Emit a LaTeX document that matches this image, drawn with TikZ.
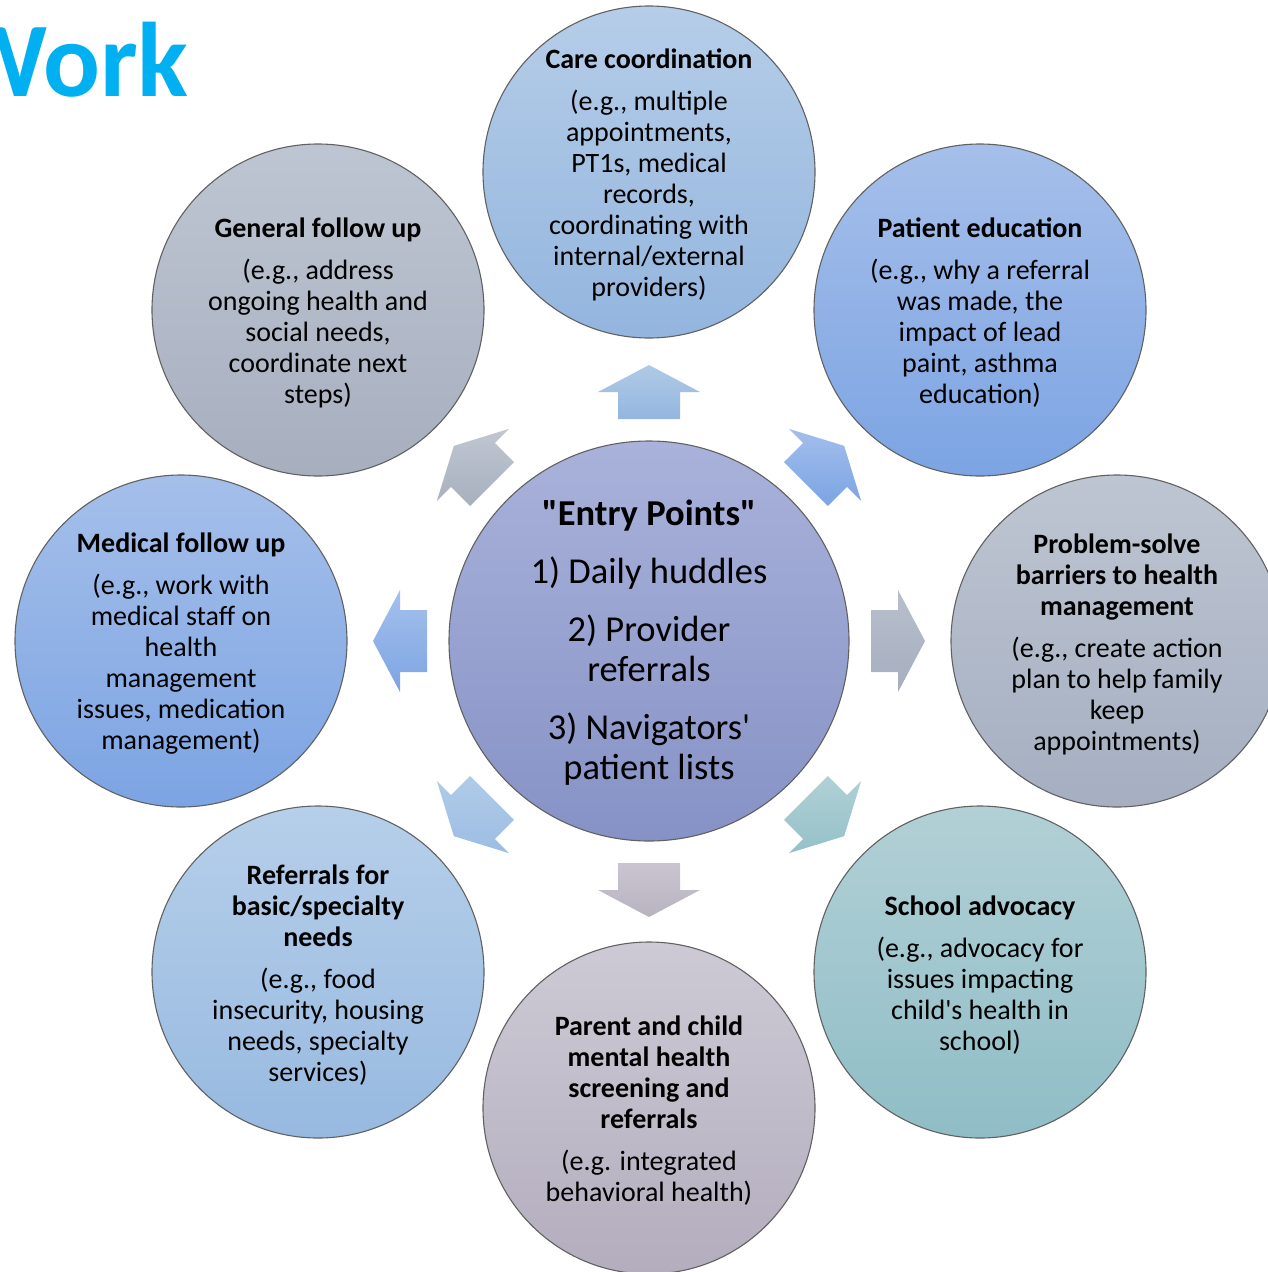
\documentclass[tikz,border=0pt]{standalone}
\usepackage{fontspec}
\setmainfont{Carlito}
\newfontfamily\calib{Carlito}
\usetikzlibrary{calc}
\definecolor{workblue}{HTML}{00B0F0}
\definecolor{careT}{HTML}{B5CDE8}\definecolor{careB}{HTML}{93B5DE}
\definecolor{eduT}{HTML}{A6BFEA}\definecolor{eduB}{HTML}{7CA4E3}
\definecolor{probT}{HTML}{BEC5D2}\definecolor{probB}{HTML}{A5AFC1}
\definecolor{schT}{HTML}{B2D0D6}\definecolor{schB}{HTML}{8FBDC6}
\definecolor{parT}{HTML}{CDCAD5}\definecolor{parB}{HTML}{B3ADBD}
\definecolor{refT}{HTML}{B6CFEA}\definecolor{refB}{HTML}{97B9E0}
\definecolor{medT}{HTML}{A5BFEA}\definecolor{medB}{HTML}{7CA4E3}
\definecolor{genT}{HTML}{BEC5D2}\definecolor{genB}{HTML}{A7AFBF}
\definecolor{hubT}{HTML}{A9B2DA}\definecolor{hubB}{HTML}{8692C6}
\definecolor{aTopT}{HTML}{B0CAE6}\definecolor{aTopB}{HTML}{93B6DF}
\definecolor{aTRT}{HTML}{A3BEEC}\definecolor{aTRB}{HTML}{7BA4E4}
\definecolor{aRT}{HTML}{B8BFCC}\definecolor{aRB}{HTML}{A5AEBF}
\definecolor{aBRT}{HTML}{B0D0D6}\definecolor{aBRB}{HTML}{95C1C8}
\definecolor{aBT}{HTML}{C9C5D0}\definecolor{aBB}{HTML}{B8B3C0}
\definecolor{aBLT}{HTML}{B0CBE8}\definecolor{aBLB}{HTML}{9CBDE3}
\definecolor{aLT}{HTML}{A5C0EC}\definecolor{aLB}{HTML}{7CA4E4}
\definecolor{aTLT}{HTML}{C0C7D2}\definecolor{aTLB}{HTML}{A7AFBD}
\tikzset{
  bubble/.style={circle, draw=black!62, line width=1.1pt, minimum size=332pt, inner sep=0pt},
  hub/.style={circle, draw=black!62, line width=1.1pt, minimum size=400pt, inner sep=0pt},
  txt/.style={align=center, inner sep=0pt, text=black, yshift=-3pt, font=\calib\fontsize{28}{31}\selectfont},
  hubtxt/.style={align=center, inner sep=0pt, text=black, yshift=-2pt, font=\calib\fontsize{36.5}{40}\selectfont},
}
\newcommand{\blockarrow}[3]{%
  \shade[top color=#2, bottom color=#3]
   ($(ctr.center)+(#1:222)+(#1+90:31)$) -- ($(ctr.center)+(#1:249)+(#1+90:31)$) --
   ($(ctr.center)+(#1:249)+(#1+90:51)$) -- ($(ctr.center)+(#1:276)$) --
   ($(ctr.center)+(#1:249)+(#1-90:51)$) -- ($(ctr.center)+(#1:249)+(#1-90:31)$) --
   ($(ctr.center)+(#1:222)+(#1-90:31)$) -- cycle;}
\begin{document}
\begin{tikzpicture}[x=1pt,y=-1pt]
\useasboundingbox (0,0) rectangle (1268,1272);
\node[anchor=base east, inner sep=0pt, text=workblue, font=\calib\bfseries\fontsize{106}{110}\selectfont] (title) at (189,96) {Work};

\node[hub, top color=hubT, bottom color=hubB] (ctr) at (649,641) {};
\node[bubble, top color=careT, bottom color=careB] (care) at (649,172) {};
\node[bubble, top color=eduT, bottom color=eduB] (edu) at (980,310) {};
\node[bubble, top color=probT, bottom color=probB] (prob) at (1117,641) {};
\node[bubble, top color=schT, bottom color=schB] (school) at (980,972) {};
\node[bubble, top color=parT, bottom color=parB] (parent) at (649,1108) {};
\node[bubble, top color=refT, bottom color=refB] (refer) at (318,972) {};
\node[bubble, top color=medT, bottom color=medB] (medical) at (181,641) {};
\node[bubble, top color=genT, bottom color=genB] (general) at (318,310) {};

\blockarrow{-90}{aTopT}{aTopB}
\blockarrow{-45}{aTRT}{aTRB}
\blockarrow{0}{aRT}{aRB}
\blockarrow{45}{aBRT}{aBRB}
\blockarrow{90}{aBT}{aBB}
\blockarrow{135}{aBLT}{aBLB}
\blockarrow{180}{aLT}{aLB}
\blockarrow{225}{aTLT}{aTLB}

\node[hubtxt] (ctr-t) at (ctr.center) {\textbf{"Entry Points"}\\[18pt]1) Daily huddles\\[18pt]2) Provider\\referrals\\[18pt]3) Navigators'\\patient lists};
\node[txt] (care-t) at (care.center) {\textbf{Care coordination}\\[11pt](e.g., multiple\\appointments,\\PT1s, medical\\records,\\coordinating with\\internal/external\\providers)};
\node[txt] (edu-t) at (edu.center) {\textbf{Patient education}\\[11pt](e.g., why a referral\\was made, the\\impact of lead\\paint, asthma\\education)};
\node[txt] (prob-t) at (prob.center) {\textbf{Problem-solve}\\\textbf{barriers to health}\\\textbf{management}\\[11pt](e.g., create action\\plan to help family\\keep\\appointments)};
\node[txt] (school-t) at (school.center) {\textbf{School advocacy}\\[11pt](e.g., advocacy for\\issues impacting\\child's health in\\school)};
\node[txt] (parent-t) at (parent.center) {\textbf{Parent and child}\\\textbf{mental health}\\\textbf{screening and}\\\textbf{referrals}\\[11pt](e.g. integrated\\behavioral health)};
\node[txt] (refer-t) at (refer.center) {\textbf{Referrals for}\\\textbf{basic/specialty}\\\textbf{needs}\\[11pt](e.g., food\\insecurity, housing\\needs, specialty\\services)};
\node[txt] (medical-t) at (medical.center) {\textbf{Medical follow up}\\[11pt](e.g., work with\\medical staff on\\health\\management\\issues, medication\\management)};
\node[txt] (general-t) at (general.center) {\textbf{General follow up}\\[11pt](e.g., address\\ongoing health and\\social needs,\\coordinate next\\steps)};
\end{tikzpicture}
\end{document}
